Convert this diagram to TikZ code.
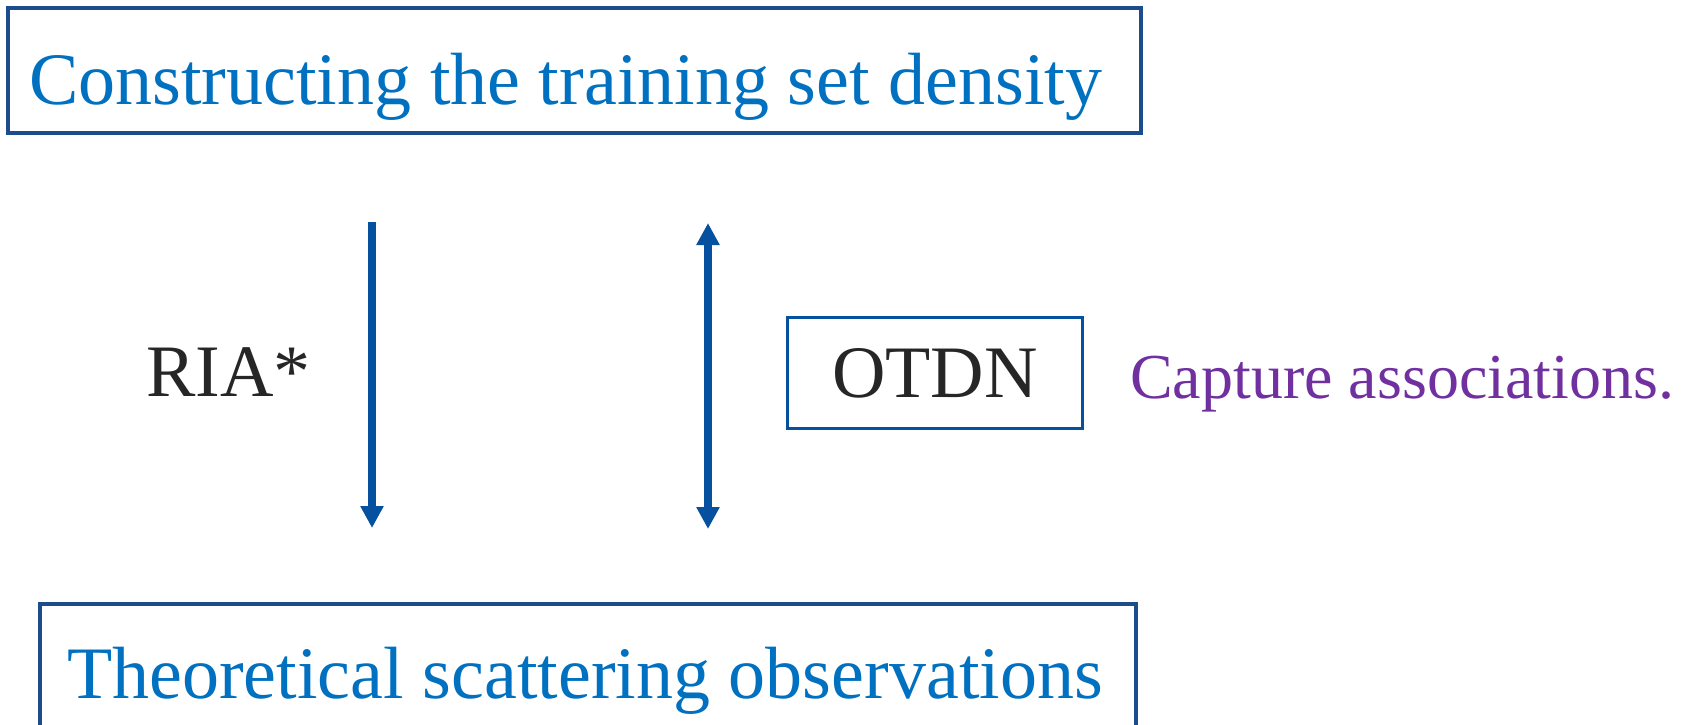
\documentclass[tikz,border=0pt]{standalone}
\usepackage{fontspec}
\setmainfont{Liberation Serif}
\usetikzlibrary{arrows.meta}
\definecolor{frameblue}{HTML}{1D4C8C}
\definecolor{arrowblue}{HTML}{0650A0}
\definecolor{titleblue}{HTML}{0070C0}
\definecolor{notepurple}{HTML}{7030A0}
\definecolor{darktext}{HTML}{262626}
\tikzset{
  framebox/.style={draw=frameblue, line width=4pt, inner sep=0pt},
  bigtext/.style={inner sep=0pt, anchor=base west, font=\fontsize{74}{88}\selectfont},
  flow/.style={draw=arrowblue, line width=7.5pt,
    -{Triangle[width=22pt,length=22pt]}},
  twoway/.style={draw=arrowblue, line width=7.5pt,
    {Triangle[width=22pt,length=22pt]}-{Triangle[width=22pt,length=22pt]}}
}
\begin{document}
\begin{tikzpicture}[x=1pt,y=-1pt]
\useasboundingbox (0,0) rectangle (1698,724);

% top box
\node[framebox, minimum width=1133pt, minimum height=125pt, anchor=north west]
  (topbox) at (6,6) {};
\node[bigtext, text=titleblue] (toptext) at (29,104)
  {Constructing the training set density};

% bottom box (runs off the lower edge)
\node[framebox, line width=3.5pt, minimum width=1096pt, minimum height=160pt, anchor=north west]
  (botbox) at (38,602) {};
\node[bigtext, text=titleblue] (bottext) at (67,698)
  {Theoretical scattering observations};

% left label
\node[bigtext, text=darktext] (ria) at (146,396) {RIA*};

% OTDN box and note
\node[draw=arrowblue, line width=3pt, minimum width=295pt, minimum height=111pt,
  inner sep=0pt, text=darktext, font=\fontsize{74}{88}\selectfont]
  (otdn) at (935,373) {OTDN};
\node[inner sep=0pt, anchor=base west, text=notepurple,
  font=\fontsize{64}{76}\selectfont] (note) at (1130,398) {Capture associations.};

% arrows
\coordinate (a1s) at (372,222);
\coordinate (a1e) at (372,528);
\coordinate (a2s) at (708,223);
\coordinate (a2e) at (708,529);
\draw[flow] (a1s) -- (a1e);
\draw[twoway] (a2s) -- (a2e);
\end{tikzpicture}
\end{document}
